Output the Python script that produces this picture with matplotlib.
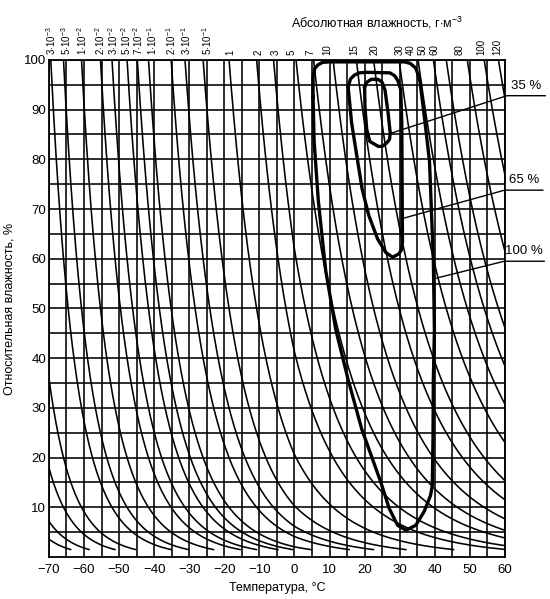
import numpy as np
import matplotlib
matplotlib.use("Agg")
import matplotlib.pyplot as plt
from matplotlib.transforms import blended_transform_factory

plt.rcParams['font.family'] = ['Liberation Sans', 'DejaVu Sans']
plt.rcParams['mathtext.fontset'] = 'custom'
plt.rcParams['mathtext.rm'] = 'Liberation Sans'
plt.rcParams['mathtext.it'] = 'Liberation Sans:italic'

# absolute humidity isolines, g/m3 (the lowest four are unlabelled)
abs_levels = [1e-4, 2e-4, 5e-4, 1e-3,
              3e-3, 5e-3, 1e-2, 2e-2, 3e-2, 5e-2, 7e-2, 0.1, 0.2, 0.3, 0.5,
              1, 2, 3, 5, 7, 10, 15, 20, 30, 40, 50, 60, 80, 100, 120]

top_labels = [r"3$\cdot$10$^{-3}$", r"5$\cdot$10$^{-3}$", r"1$\cdot$10$^{-2}$",
              r"2$\cdot$10$^{-2}$", r"3$\cdot$10$^{-2}$", r"5$\cdot$10$^{-2}$",
              r"7$\cdot$10$^{-2}$", r"1$\cdot$10$^{-1}$", r"2$\cdot$10$^{-1}$",
              r"3$\cdot$10$^{-1}$", r"5$\cdot$10$^{-1}$",
              "1", "2", "3", "5", "7", "10", "15", "20", "30", "40", "50",
              "60", "80", "100", "120"]
# where the labels sit along the top edge, degC
top_label_temps = [-69.4, -65.1, -60.6, -55.3, -51.7, -48.1, -44.5, -40.6,
                   -35.1, -30.9, -24.8, -18.3, -10.3, -5.4, -0.9, 4.6, 9.4,
                   17.1, 22.9, 30.0, 33.3, 36.6, 39.9, 47.0, 53.4, 57.7]

# thick envelopes (temperature, relative humidity)
env100_t = [5.3, 5.3, 5.8, 6.7, 8.0, 10.0, 31.4, 33.0, 34.5, 35.3, 35.8, 37.2,
            38.5, 39.6, 39.9, 39.6, 39.5, 39.3, 38.8, 37.0, 34.6, 31.8, 29.4,
            27.0, 24.6, 19.2, 15.3, 11.8, 8.9, 6.8, 5.6, 5.3]
env100_rh = [92.6, 96.6, 98.3, 99.0, 99.5, 99.6, 99.6, 99.3, 98.4, 97.0, 95.6,
             87.6, 79.6, 59.7, 45.7, 35.7, 23.8, 14.4, 12.4, 9.2, 6.4, 5.4, 6.4,
             9.8, 15.1, 25.7, 35.7, 45.7, 57.7, 71.7, 83.6, 92.6]

env65_t = [15.3, 16.0, 17.2, 18.6, 20.5, 27.2, 28.6, 29.5, 30.3, 30.6, 30.7,
           30.8, 30.5, 29.8, 28.0, 26.0, 23.7, 21.2, 19.3, 17.8, 16.3, 15.3]
env65_rh = [94.6, 96.2, 97.0, 97.4, 97.5, 97.4, 96.8, 95.8, 94.0, 87.3, 74.0,
            63.3, 61.8, 61.0, 60.3, 61.3, 64.0, 68.7, 74.0, 80.6, 87.3, 94.6]

env35_t = [20.0, 20.6, 21.9, 23.8, 25.0, 25.8, 26.7, 27.3, 27.1, 26.3, 25.0,
           23.9, 21.5, 20.6, 20.1, 20.0]
env35_rh = [94.6, 95.5, 96.1, 96.1, 95.5, 94.0, 89.3, 85.3, 84.0, 83.3, 82.6,
            82.6, 83.6, 86.0, 90.6, 94.6]

env_labels = ["35 %", "65 %", "100 %"]
leader_t = [[27.3, 60.6, 71.5], [30.8, 59.9, 70.8], [40.4, 59.8, 71.2]]
leader_rh = [[85.2, 92.8, 92.8], [68.1, 73.8, 73.8], [56.1, 59.5, 59.5]]


def sat_density(t):
    # saturation vapour density, g/m3 (Magnus, over ice below 0 C)
    e = np.where(t < 0,
                 6.112 * np.exp(22.46 * t / (272.62 + t)),
                 6.112 * np.exp(17.62 * t / (243.12 + t)))
    return 216.7 * e / (t + 273.15)


fig = plt.figure(figsize=(5.5, 5.99), dpi=100)
ax = fig.add_axes([0.089, 0.070, 0.829, 0.830])

ax.set_xlim(-70, 60)
ax.set_ylim(0, 100)

# grid every 5
ax.set_xticks(np.arange(-70, 61, 10))
ax.set_xticks(np.arange(-70, 61, 5), minor=True)
ax.set_yticks(np.arange(10, 101, 10))
ax.set_yticks(np.arange(5, 100, 5), minor=True)
ax.grid(which='both', color='black', linewidth=1.15)
ax.tick_params(which='both', length=0, labelsize=9.5)
ax.tick_params(axis='x', pad=5)
ax.tick_params(axis='y', pad=2)
for s in ax.spines.values():
    s.set_linewidth(1.3)

# absolute humidity curves
temps = np.linspace(-75, 61, 1400)
for lvl in abs_levels:
    rh = 100 * lvl / sat_density(temps)
    rh = np.where((rh >= 1.5) & (rh <= 110), rh, np.nan)
    ax.plot(temps, rh, color='black', linewidth=1.15)

# envelopes
for et, erh in [(env100_t, env100_rh), (env65_t, env65_rh), (env35_t, env35_rh)]:
    ax.plot(et, erh, color='black', linewidth=2.4, solid_joinstyle='round')

# leaders and labels
for lab, lt, lr in zip(env_labels, leader_t, leader_rh):
    ax.plot(lt, lr, color='black', linewidth=1.0, clip_on=False)
    ax.text((lt[1] + lt[2]) / 2, lr[2] + 0.8, lab, ha='center', va='bottom',
            fontsize=9.5, clip_on=False)

# top labels for absolute humidity
tr = blended_transform_factory(ax.transData, ax.transAxes)
for lab, t in zip(top_labels, top_label_temps):
    ax.text(t, 1.01, lab, transform=tr, rotation=90, ha='center', va='bottom',
            fontsize=7)

fig.text(0.685, 0.962, r"Абсолютная влажность, г$\cdot$м$^{-3}$", ha='center',
         va='center', fontsize=9)

ax.set_xlabel("Температура, °C", fontsize=9, labelpad=4)
ax.set_ylabel("Относительная влажность, %", fontsize=9, labelpad=6)

fig.savefig("out.png", dpi=100)
